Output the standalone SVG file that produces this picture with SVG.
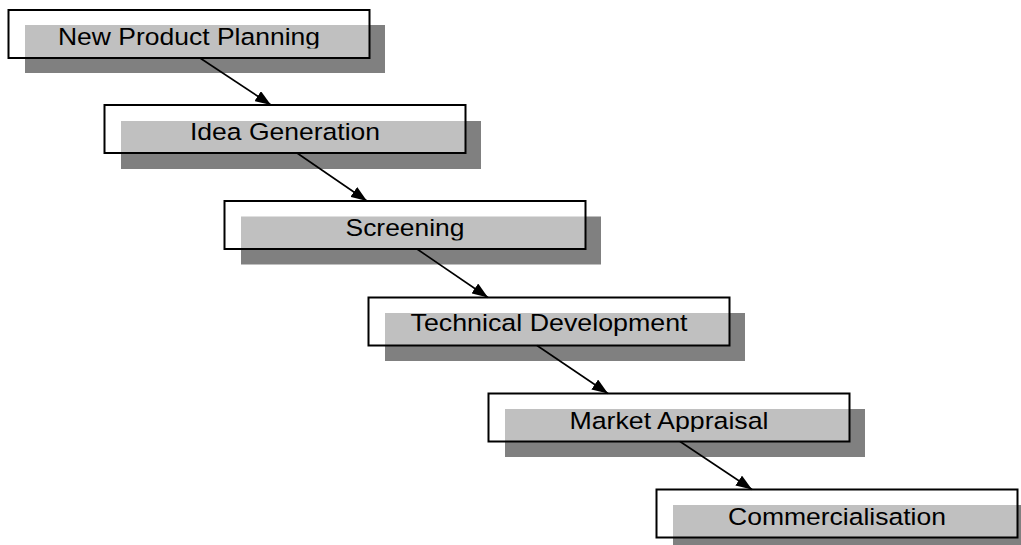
<svg xmlns="http://www.w3.org/2000/svg" width="1021" height="545" viewBox="0 0 1021 545">
<style>
.shadow{fill:#808080;}
.box{fill:#ffffff;fill-opacity:0.5;stroke:#000000;stroke-width:2;}
.label{font-family:"Liberation Sans",Arial,sans-serif;font-size:24.5px;fill:#000000;text-anchor:middle;}
.conn{stroke:#000000;stroke-width:1.6;fill:none;marker-end:url(#arrow);}
</style>
<defs>
<marker id="arrow" markerUnits="userSpaceOnUse" markerWidth="16" markerHeight="12" viewBox="0 0 16 12" refX="16" refY="6" orient="auto">
<path d="M0,0 L16,6 L0,12 Z" fill="#000000"/>
</marker>
<clipPath id="c1"><rect x="8.5" y="10" width="361" height="38.5"/></clipPath>
<clipPath id="c2"><rect x="104.5" y="105" width="361" height="38.5"/></clipPath>
<clipPath id="c3"><rect x="224.5" y="201" width="361" height="39.5"/></clipPath>
<clipPath id="c4"><rect x="368.5" y="297.5" width="361" height="38.5"/></clipPath>
<clipPath id="c5"><rect x="488.5" y="393.5" width="361" height="38.5"/></clipPath>
<clipPath id="c6"><rect x="656.5" y="489.5" width="361" height="38.5"/></clipPath>
</defs>
<g id="node-new-product-planning">
<rect class="shadow" x="25" y="25" width="360" height="48"/>
<rect class="box" x="8.5" y="10" width="361" height="48"/>
<text class="label" x="189" y="44.5" textLength="262" lengthAdjust="spacingAndGlyphs" clip-path="url(#c1)">New Product Planning</text>
</g>
<g id="node-idea-generation">
<rect class="shadow" x="121" y="121" width="360" height="48"/>
<rect class="box" x="104.5" y="105" width="361" height="48"/>
<text class="label" x="285" y="139.5" textLength="190" lengthAdjust="spacingAndGlyphs" clip-path="url(#c2)">Idea Generation</text>
</g>
<g id="node-screening">
<rect class="shadow" x="241" y="216.5" width="360" height="48"/>
<rect class="box" x="224.5" y="201" width="361" height="48"/>
<text class="label" x="405" y="236" textLength="119" lengthAdjust="spacingAndGlyphs" clip-path="url(#c3)">Screening</text>
</g>
<g id="node-technical-development">
<rect class="shadow" x="385" y="313" width="360" height="48"/>
<rect class="box" x="368.5" y="297.5" width="361" height="48"/>
<text class="label" x="549" y="331" textLength="277" lengthAdjust="spacingAndGlyphs" clip-path="url(#c4)">Technical Development</text>
</g>
<g id="node-market-appraisal">
<rect class="shadow" x="505" y="409" width="360" height="48"/>
<rect class="box" x="488.5" y="393.5" width="361" height="48"/>
<text class="label" x="669" y="428.5" textLength="199" lengthAdjust="spacingAndGlyphs" clip-path="url(#c5)">Market Appraisal</text>
</g>
<g id="node-commercialisation">
<rect class="shadow" x="673" y="505" width="360" height="48"/>
<rect class="box" x="656.5" y="489.5" width="361" height="48"/>
<text class="label" x="837" y="525" textLength="218" lengthAdjust="spacingAndGlyphs" clip-path="url(#c6)">Commercialisation</text>
</g>
<g id="connectors">
<line class="conn" x1="200" y1="58" x2="271" y2="105"/>
<line class="conn" x1="297" y1="153" x2="367" y2="201"/>
<line class="conn" x1="417" y1="249" x2="488" y2="297.5"/>
<line class="conn" x1="537" y1="345.5" x2="608" y2="393.5"/>
<line class="conn" x1="680" y1="441.5" x2="752" y2="489.5"/>
</g>
</svg>
